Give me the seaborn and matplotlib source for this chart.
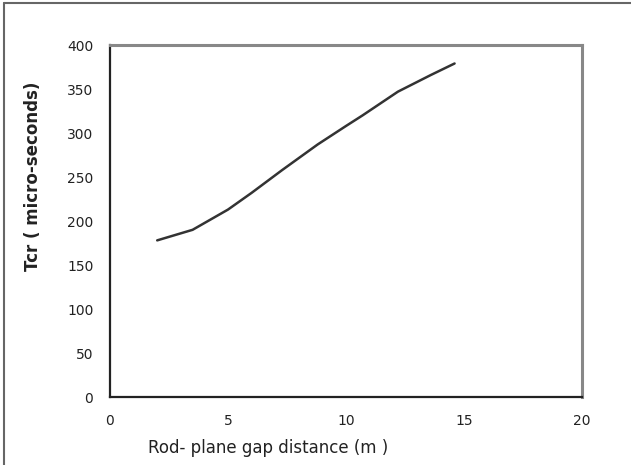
import matplotlib
matplotlib.use('Agg')
import matplotlib.pyplot as plt
import seaborn as sns
import pandas as pd
from matplotlib.lines import Line2D

# values
gap_m = [2, 3.5, 5, 6, 7.3, 8.8, 10, 10.7, 12.2, 13.6, 14.6]
tcr_us = [178, 190, 213, 232, 258, 287, 308, 320, 347, 366, 379]

x_ticks = [0, 5, 10, 15, 20]
y_ticks = [0, 50, 100, 150, 200, 250, 300, 350, 400]

df = pd.DataFrame({'gap': gap_m, 'tcr': tcr_us})

sns.set_style('white')
plt.rcParams['font.family'] = ['DejaVu Sans']

fig = plt.figure(figsize=(6.31, 4.65), dpi=100)
ax = fig.add_axes([0.1743, 0.1462, 0.7481, 0.757])

sns.lineplot(data=df, x='gap', y='tcr', color='#333333', linewidth=1.8, ax=ax)

ax.set_xlim(0, 20)
ax.set_ylim(0, 400)
ax.set_xticks(x_ticks)
ax.set_yticks(y_ticks)
ax.set_xticklabels([str(t) for t in x_ticks], fontsize=10, color='#222222')
ax.set_yticklabels([str(t) for t in y_ticks], fontsize=10, color='#222222')
ax.tick_params(axis='both', direction='out', length=5, width=1.3, color='#222222', pad=7)

for side in ['left', 'bottom']:
    ax.spines[side].set_color('#222222')
    ax.spines[side].set_linewidth(1.6)
for side in ['top', 'right']:
    ax.spines[side].set_color('#888888')
    ax.spines[side].set_linewidth(2.2)

ax.set_xlabel('Rod- plane gap distance (m )', fontsize=12, color='#222222')
ax.set_ylabel('Tcr ( micro-seconds)', fontsize=12, fontweight='bold', color='#222222')
ax.xaxis.set_label_coords(0.335, -0.12)
ax.yaxis.set_label_coords(-0.145, 0.628)

# outer frame lines on the left and top of the picture
fig.add_artist(Line2D([0.007, 0.007], [0, 0.994], color='#666666', linewidth=1.5, transform=fig.transFigure))
fig.add_artist(Line2D([0.007, 1.0], [0.994, 0.994], color='#666666', linewidth=1.5, transform=fig.transFigure))

fig.savefig('out.png', dpi=100)
